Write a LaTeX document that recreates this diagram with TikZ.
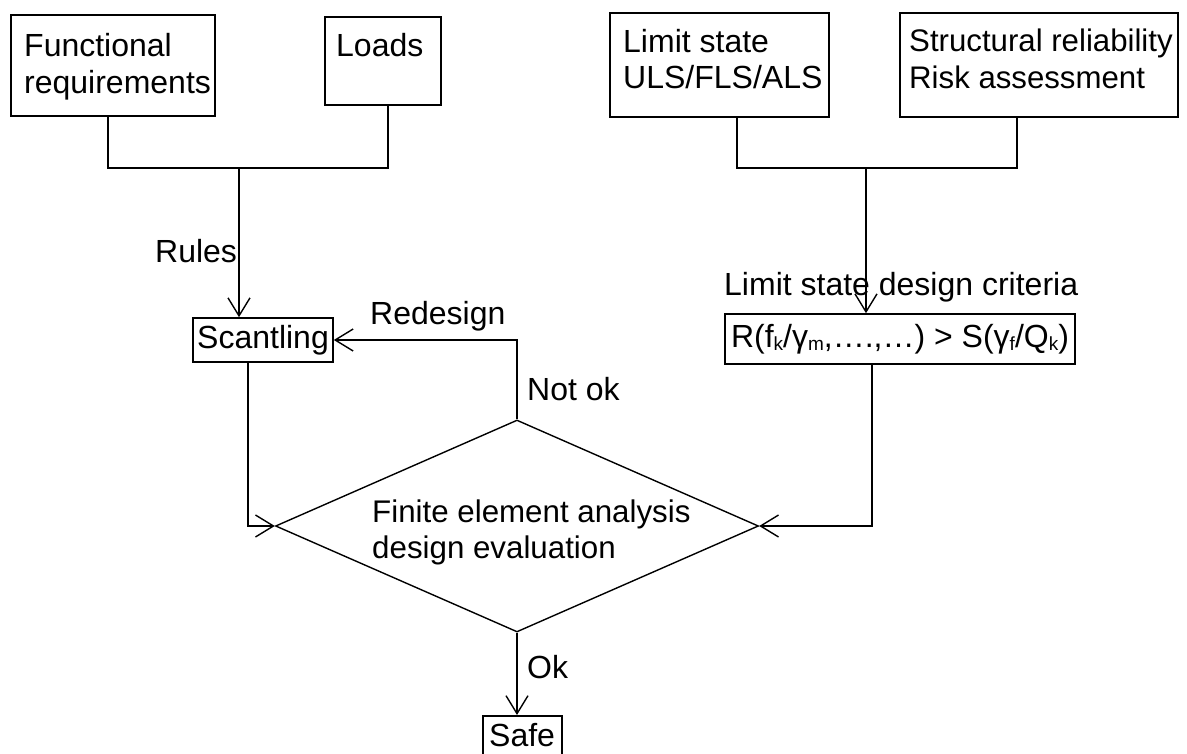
\documentclass[tikz,border=0pt]{standalone}
\usepackage{fontspec}
\setmainfont{Liberation Sans}
\usetikzlibrary{arrows.meta,shapes.geometric}

% small lowered index used in the limit state inequality
\newcommand\lowidx[1]{\raisebox{-0.1em}{\fontsize{19}{19}\selectfont #1}}

\begin{document}
\begin{tikzpicture}[x=1pt,y=-1pt,
  box/.style={draw, line width=1.6pt, inner sep=0pt},
  txt/.style={inner sep=0pt, align=left, anchor=north west, font=\fontsize{32}{36.5}\selectfont},
  lbl/.style={inner sep=0pt, anchor=base west, font=\fontsize{32}{36.5}\selectfont},
  link/.style={line width=1.4pt},
  arr/.style={link, -{Straight Barb[length=18pt,width=22pt]}},
]
\useasboundingbox (0,0) rectangle (1187,754);
\fill[white] (0,0) rectangle (1187,754);

% input boxes
\node[box, minimum width=204pt, minimum height=101pt] (func) at (113,65.5) {};
\node[txt] (functxt) at (24,33.5) {Functional\\requirements};
\node[box, minimum width=116pt, minimum height=88pt] (loads) at (383,61) {};
\node[txt] (loadstxt) at (336,33.5) {Loads};
\node[box, minimum width=219pt, minimum height=104pt] (limit) at (719.5,65) {};
\node[txt] (limittxt) at (623,29) {Limit state\\ULS/FLS/ALS};
\node[box, minimum width=278pt, minimum height=104pt] (struct) at (1039,65) {};
\node[txt, font=\fontsize{31.2}{36.5}\selectfont] (structtxt) at (909,29) {Structural reliability\\Risk assessment};

% intermediate boxes
\node[box, minimum width=140pt, minimum height=44pt, font=\fontsize{32}{36.5}\selectfont] (scant) at (263,340) {Scantling};
\node[box, minimum width=350pt, minimum height=50pt, font=\fontsize{32}{36.5}\selectfont] (crit) at (900,339)
  {R(f\lowidx{k}/γ\lowidx{m},….,…) > S(γ\lowidx{f}/Q\lowidx{k})};

% decision
\node[draw, diamond, line width=1.4pt, inner sep=0pt, minimum width=483pt, minimum height=212pt] (dia) at (517,526) {};
\node[txt, font=\fontsize{31.3}{36}\selectfont] (diatxt) at (372,500) {Finite element analysis\\design evaluation};

% result
\node[box, minimum width=79pt, minimum height=60pt, anchor=north] (safe) at (522.5,715) {};
\node[lbl] (safetxt) at (489,746) {Safe};

% labels
\node[lbl] (rules) at (155,263) {Rules};
\node[lbl] (lsdc) at (724,296) {Limit state design criteria};
\node[lbl] (redesign) at (370,325) {Redesign};
\node[lbl] (notok) at (527,400) {Not ok};
\node[lbl] (ok) at (527,678) {Ok};

% junctions
\coordinate (jl) at (239,168);
\coordinate (jr) at (866,168);

% connectors
\draw[link] ([xshift=-5pt]func.south) |- (jl) -| ([xshift=5pt]loads.south);
\draw[arr] (jl) -- (jl |- scant.north);
\draw[link] ([xshift=17.5pt]limit.south) |- (jr) -| ([xshift=-22pt]struct.south);
\draw[arr] (jr) -- (jr |- crit.north);
\draw[arr] (dia.north) -- (dia.north |- scant.east) -- (scant.east);
\draw[arr] ([xshift=-15pt]scant.south) |- (dia.west);
\draw[arr] ([xshift=-28pt]crit.south) |- (dia.east);
\draw[arr] (dia.south) -- (dia.south |- safe.north);
\end{tikzpicture}
\end{document}
